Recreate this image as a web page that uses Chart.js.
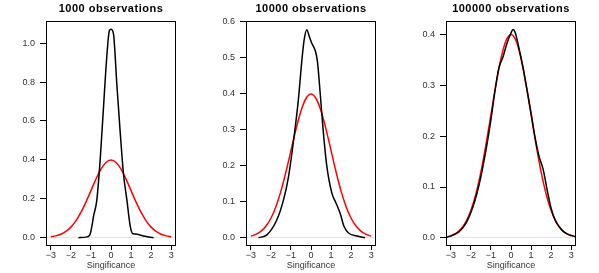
<!DOCTYPE html>
<html>
<head>
<meta charset="utf-8">
<script src="https://cdn.jsdelivr.net/npm/chart.js@4"></script>
<style>
  body { margin: 0; background: #fff; }
  #wrap { display: flex; width: 599px; height: 273px; }
  .panel { position: relative; height: 273px; }
</style>
</head>
<body>
<div id="wrap">
  <div class="panel" style="width:200px"><canvas id="c1"></canvas></div>
  <div class="panel" style="width:200px"><canvas id="c2"></canvas></div>
  <div class="panel" style="width:199px"><canvas id="c3"></canvas></div>
</div>
<script>
// titles
const titles = ['1000 observations', '10000 observations', '100000 observations'];
const xLabel = 'Singificance';
const xTicks = [-3, -2, -1, 0, 1, 2, 3];

// standard normal reference curve (red)
const normX = [-3, -2.75, -2.5, -2.25, -2, -1.75, -1.5, -1.25, -1, -0.75, -0.5, -0.25, 0,
               0.25, 0.5, 0.75, 1, 1.25, 1.5, 1.75, 2, 2.25, 2.5, 2.75, 3];
const normY = [0.0044, 0.0091, 0.0175, 0.0317, 0.054, 0.0863, 0.1295, 0.1826, 0.242, 0.3011, 0.3521, 0.3867, 0.3989,
               0.3867, 0.3521, 0.3011, 0.242, 0.1826, 0.1295, 0.0863, 0.054, 0.0317, 0.0175, 0.0091, 0.0044];

// 1000 observations (black density)
const d1X = [-1.62, -1.2, -1.05, -0.95, -0.87, -0.71, -0.54, -0.38, -0.21, -0.08, 0, 0.12, 0.29, 0.46, 0.62, 0.79, 0.96, 1.09, 1.29, 1.62, 2.12];
const d1Y = [0, 0.004, 0.015, 0.06, 0.11, 0.19, 0.40, 0.66, 0.93, 1.065, 1.072, 1.05, 0.79, 0.54, 0.33, 0.195, 0.058, 0.02, 0.018, 0.008, 0];

// 10000 observations
const d2X = [-2.62, -2.2, -1.7, -1.37, -1.12, -0.87, -0.63, -0.46, -0.34, -0.21, -0.08, 0.04, 0.21, 0.32, 0.46, 0.62, 0.79, 1.04, 1.25, 1.45, 1.65, 1.87, 2.29, 2.7];
const d2Y = [0, 0.008, 0.05, 0.105, 0.17, 0.27, 0.383, 0.49, 0.55, 0.578, 0.558, 0.54, 0.52, 0.49, 0.40, 0.29, 0.198, 0.124, 0.096, 0.068, 0.031, 0.013, 0.005, 0];

// 100000 observations
const d3X = [-3.2, -3.0, -2.8, -2.6, -2.4, -2.2, -2.0, -1.8, -1.6, -1.4, -1.2, -1.0, -0.8, -0.6, -0.4, -0.2, 0, 0.1, 0.2, 0.4, 0.6, 0.8, 1.0, 1.2, 1.4, 1.6, 1.8, 2.0, 2.2, 2.4, 2.6, 2.8, 3.0, 3.2];
const d3Y = [0.002, 0.004, 0.007, 0.012, 0.020, 0.032, 0.050, 0.073, 0.103, 0.140, 0.183, 0.232, 0.288, 0.334, 0.355, 0.382, 0.402, 0.409, 0.404, 0.372, 0.334, 0.290, 0.245, 0.197, 0.160, 0.135, 0.095, 0.058, 0.035, 0.022, 0.013, 0.008, 0.005, 0.003];

const yTicks = [
  [0, 0.2, 0.4, 0.6, 0.8, 1.0],
  [0, 0.1, 0.2, 0.3, 0.4, 0.5, 0.6],
  [0, 0.1, 0.2, 0.3, 0.4]
];
const yRanges = [[-0.043, 1.114], [-0.023, 0.602], [-0.0157, 0.4256]];
const densX = [d1X, d2X, d3X];
const densY = [d1Y, d2Y, d3Y];

const font = 'Liberation Sans, Arial, Helvetica, sans-serif';

// frame round the plot area and a title centred over it
const boxPlugin = {
  id: 'box',
  afterDraw(chart, args, opts) {
    const a = chart.chartArea;
    const c = chart.ctx;
    c.save();
    c.strokeStyle = '#000';
    c.lineWidth = 1;
    c.strokeRect(a.left + 0.5, a.top + 0.5, a.right - a.left - 1, a.bottom - a.top - 1);
    c.fillStyle = '#000';
    c.font = 'bold 11px ' + font;
    if ('letterSpacing' in c) c.letterSpacing = '0.5px';
    c.textAlign = 'center';
    c.textBaseline = 'middle';
    c.fillText(opts.text, (a.left + a.right) / 2, 9);
    c.restore();
  }
};

function pts(xs, ys) {
  return xs.map((x, i) => ({ x: x, y: ys[i] }));
}

function makeChart(i) {
  const ctx = document.getElementById('c' + (i + 1)).getContext('2d');
  return new Chart(ctx, {
    type: 'line',
    data: {
      datasets: [{
        data: pts(densX[i], densY[i]),
        borderColor: '#000',
        borderWidth: 1.5,
        pointRadius: 0,
        cubicInterpolationMode: 'monotone',
        fill: false
      }, {
        data: pts(normX, normY),
        borderColor: '#ff0000',
        borderWidth: 1.5,
        pointRadius: 0,
        cubicInterpolationMode: 'monotone',
        fill: false
      }]
    },
    options: {
      responsive: true,
      maintainAspectRatio: false,
      animation: false,
      layout: { padding: { left: 0, right: i === 2 ? 23 : 24, top: 21, bottom: 0 } },
      plugins: {
        legend: { display: false },
        tooltip: { enabled: false },
        title: { display: false },
        box: { text: titles[i] }
      },
      scales: {
        x: {
          type: 'linear',
          min: -3.24,
          max: 3.24,
          afterBuildTicks: s => { s.ticks = xTicks.map(v => ({ value: v })); },
          afterFit: s => { s.height = 27; },
          border: { display: false },
          grid: { drawOnChartArea: false, drawTicks: true, tickLength: 4, tickColor: '#000' },
          ticks: {
            padding: 0,
            color: '#333',
            font: { family: font, size: 9 },
            maxRotation: 0,
            autoSkip: false,
            callback: v => (v < 0 ? '\u2212' + Math.abs(v) : String(v))
          },
          title: {
            display: true,
            text: xLabel,
            color: '#333',
            font: { family: font, size: 9 },
            padding: { top: 0, bottom: 2 }
          }
        },
        y: {
          min: yRanges[i][0],
          max: yRanges[i][1],
          afterBuildTicks: s => { s.ticks = yTicks[i].map(v => ({ value: v })); },
          afterFit: s => { s.width = 46; },
          border: { display: false },
          grid: {
            drawOnChartArea: true,
            drawTicks: true,
            tickLength: 6,
            tickColor: '#000',
            color: c => (c.tick && c.tick.value === 0 ? '#e4e4e4' : 'rgba(0,0,0,0)')
          },
          ticks: {
            padding: 5,
            color: '#333',
            font: { family: font, size: 9 },
            autoSkip: false,
            callback: v => v.toFixed(1)
          }
        }
      }
    },
    plugins: [boxPlugin]
  });
}

for (let i = 0; i < 3; i++) makeChart(i);
</script>
</body>
</html>
